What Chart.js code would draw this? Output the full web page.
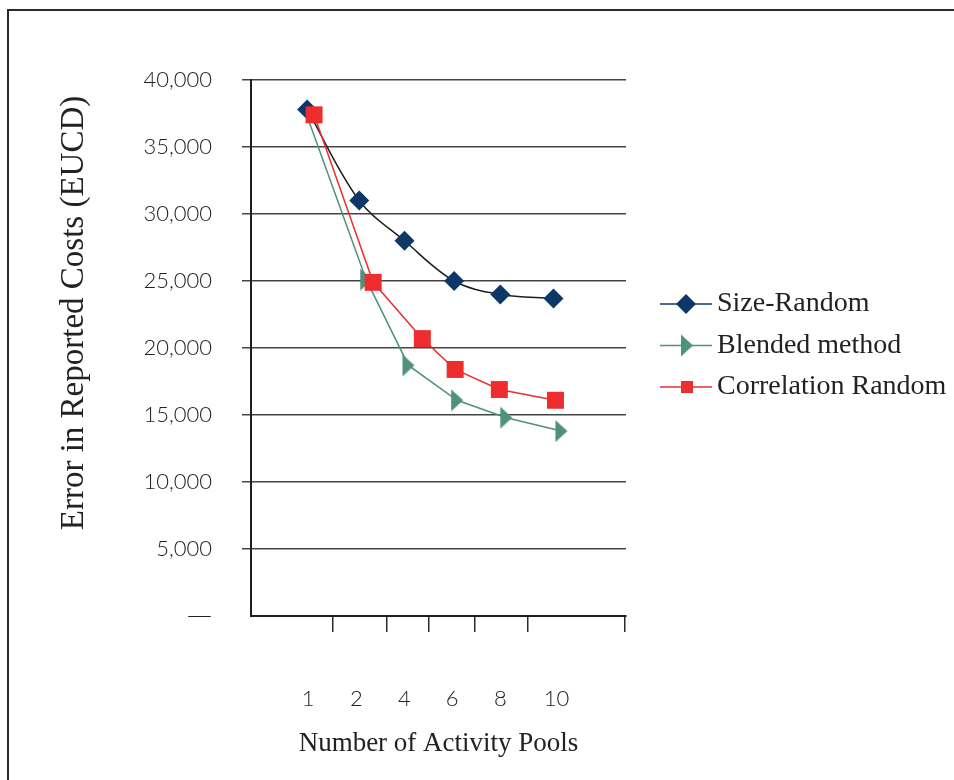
<!DOCTYPE html>
<html>
<head>
<meta charset="utf-8">
<script src="https://cdn.jsdelivr.net/npm/chart.js@4.4.1/dist/chart.umd.min.js"></script>
<style>
    html, body { margin: 0; padding: 0; background: #fff; }
    #wrap { position: relative; width: 954px; height: 780px; overflow: hidden; }
    #frame { position: absolute; left: 7px; top: 9px; width: 1000px; height: 1000px;
             border-left: 2px solid #2a2a2a; border-top: 2px solid #2a2a2a; }
    #chart { position: absolute; left: 0; top: 0; }
</style>
</head>
<body>
<div id="wrap">
    <div id="frame"></div>
    <canvas id="chart" width="954" height="780"></canvas>
</div>
<script>
    // tick labels on the x axis, where each one sits, and where the (odd) tick marks sit
    const xLabels = ["1", "2", "4", "6", "8", "10"];
    const xLabelPos = [1.00, 1.97, 2.94, 3.90, 4.87, 6.00];
    const xTickMarks = [1.50, 2.59, 3.42, 4.35, 5.42, 7.37];

    // series (x in label units, y in EUCD)
    const sizeX  = [0.98, 2.03, 2.94, 3.94, 4.87, 5.94];
    const sizeY  = [37800, 31000, 28000, 25000, 24000, 23700];
    const blendX = [0.94, 2.17, 3.02, 4.00, 4.99, 6.10];
    const blendY = [37700, 25100, 18700, 16100, 14800, 13800];
    const corrX  = [1.12, 2.31, 3.30, 3.96, 4.85, 5.98];
    const corrY  = [37400, 24900, 20700, 18400, 16900, 16100];

    const NAVY = "#0d3768";
    const GREEN = "#4f9279";
    const RED = "#ee2d2f";

    const serif = "'Liberation Serif', 'Times New Roman', serif";
    const sans = "Lato, 'Open Sans', sans-serif";

    // narrow right-pointing triangle like the original marker
    function makeTriangle(color) {
        const c = document.createElement("canvas");
        c.width = 14; c.height = 24;
        const g = c.getContext("2d");
        g.fillStyle = color;
        g.beginPath();
        g.moveTo(1, 1);
        g.lineTo(13, 12);
        g.lineTo(1, 23);
        g.closePath();
        g.fill();
        return c;
    }
    const triangle = makeTriangle(GREEN);

    const pts = (xs, ys) => xs.map((x, i) => ({ x: x, y: ys[i] }));

    // y title + legend drawn by hand (legend has line through the marker)
    const extras = {
        id: "extras",
        afterDraw(chart) {
            const ctx = chart.ctx;
            ctx.save();
            ctx.fillStyle = "#222";
            ctx.font = "33px " + serif;
            ctx.textAlign = "center";
            ctx.textBaseline = "middle";
            ctx.translate(74, 313);
            ctx.rotate(-Math.PI / 2);
            ctx.fillText("Error in Reported Costs (EUCD)", 0, 0);
            ctx.restore();

            chart.data.datasets.forEach((ds, i) => {
                const y = 304 + i * 41.5;
                ctx.save();
                ctx.strokeStyle = ds.pointBackgroundColor;
                ctx.lineWidth = 1.5;
                ctx.beginPath();
                ctx.moveTo(660, y);
                ctx.lineTo(712, y);
                ctx.stroke();
                ctx.fillStyle = ds.pointBackgroundColor;
                if (ds.pointStyle === "rectRot") {
                    ctx.beginPath();
                    ctx.moveTo(686, y - 10);
                    ctx.lineTo(696, y);
                    ctx.lineTo(686, y + 10);
                    ctx.lineTo(676, y);
                    ctx.closePath();
                    ctx.fill();
                } else if (ds.pointStyle === "rect") {
                    ctx.fillRect(681, y - 6, 12, 12);
                } else {
                    ctx.drawImage(ds.pointStyle, 680, y - 12);
                }
                ctx.fillStyle = "#222";
                ctx.font = "28px " + serif;
                ctx.textAlign = "left";
                ctx.textBaseline = "middle";
                ctx.fillText(ds.label, 717, y);
                ctx.restore();
            });
        }
    };

    const chart = new Chart(document.getElementById("chart"), {
        type: "line",
        data: {
            datasets: [
                {
                    label: "Size-Random",
                    data: pts(sizeX, sizeY),
                    borderColor: "#1e1e1e",
                    borderWidth: 1.5,
                    tension: 0.35,
                    pointStyle: "rectRot",
                    pointRadius: 10,
                    pointBackgroundColor: NAVY,
                    pointBorderColor: NAVY,
                    pointBorderWidth: 0,
                    order: 1
                },
                {
                    label: "Blended method",
                    data: pts(blendX, blendY),
                    borderColor: GREEN,
                    borderWidth: 1.5,
                    tension: 0,
                    pointStyle: triangle,
                    // first marker is buried under the other two in the original
                    pointRadius: (c) => (c.dataIndex === 0 ? 0 : 3),
                    pointBackgroundColor: GREEN,
                    pointBorderColor: GREEN,
                    order: 2
                },
                {
                    label: "Correlation Random",
                    data: pts(corrX, corrY),
                    borderColor: RED,
                    borderWidth: 1.5,
                    tension: 0,
                    pointStyle: "rect",
                    pointRadius: 12,
                    pointBackgroundColor: RED,
                    pointBorderColor: RED,
                    pointBorderWidth: 0,
                    order: 0
                }
            ]
        },
        options: {
            responsive: false,
            animation: false,
            layout: { padding: { top: 80, right: 328, left: 0, bottom: 0 } },
            plugins: {
                legend: { display: false },
                tooltip: { enabled: false }
            },
            scales: {
                x: {
                    type: "linear",
                    position: "bottom",
                    weight: 0,
                    min: -0.15,
                    max: 7.4,
                    afterBuildTicks: (s) => { s.ticks = xTickMarks.map(v => ({ value: v })); },
                    afterFit: (s) => { s.height = 16; },
                    grid: { drawOnChartArea: false, drawTicks: true, tickLength: 16, color: "#2a2a2a", lineWidth: 1.5 },
                    border: { display: true, color: "#1e1e1e", width: 2 },
                    ticks: { display: false }
                },
                x2: {
                    type: "linear",
                    position: "bottom",
                    weight: 1,
                    min: -0.15,
                    max: 7.4,
                    afterBuildTicks: (s) => { s.ticks = xLabelPos.map(v => ({ value: v })); },
                    afterFit: (s) => { s.height = 148; },
                    grid: { display: false },
                    border: { display: false },
                    ticks: {
                        autoSkip: false,
                        maxRotation: 0,
                        padding: 46,
                        color: "#222",
                        font: { family: sans, size: 22, weight: 300 },
                        callback: (v, i) => xLabels[i]
                    },
                    title: {
                        display: true,
                        text: "Number of Activity Pools",
                        color: "#222",
                        font: { family: serif, size: 27 },
                        padding: { top: 0, bottom: 20 }
                    }
                },
                y: {
                    min: 0,
                    max: 40000,
                    afterFit: (s) => { s.width = 251; },
                    grid: {
                        color: "#444",
                        lineWidth: 1.5,
                        tickLength: 9,
                        tickColor: (c) => (c.tick && c.tick.value === 0 ? "rgba(0,0,0,0)" : "#444")
                    },
                    border: { display: true, color: "#1e1e1e", width: 2 },
                    ticks: {
                        stepSize: 5000,
                        padding: 30,
                        color: "#222",
                        // the zero label is a long dash; DejaVu draws a full-width one
                        font: (c) => (c.tick && c.tick.value === 0
                            ? { family: "'DejaVu Sans', sans-serif", size: 25, weight: 300 }
                            : { family: sans, size: 22, weight: 300 }),
                        callback: (v) => (v === 0 ? "\u2014" : v.toLocaleString("en-US"))
                    }
                }
            }
        },
        plugins: [extras]
    });
</script>
</body>
</html>
